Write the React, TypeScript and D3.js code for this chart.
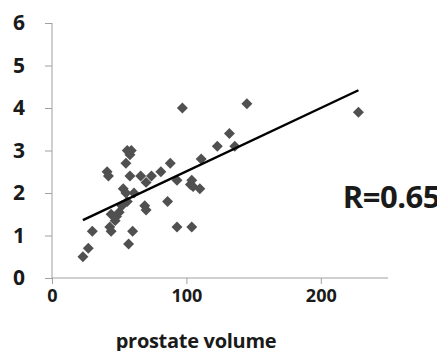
import { useEffect, useRef } from 'react'
import * as d3 from 'd3'

const volume = [23, 27, 30, 41, 42, 43, 44, 44, 47, 48, 50, 52, 53, 55, 56, 57, 60, 55, 56, 58, 59, 58, 61, 66, 70, 74, 69, 70, 81, 86, 88, 93, 93, 97, 103, 104, 105, 104, 110, 111, 123, 132, 136, 145, 228]
const ratio  = [0.5, 0.7, 1.1, 2.5, 2.4, 1.2, 1.1, 1.5, 1.35, 1.45, 1.55, 1.7, 2.1, 2.0, 1.8, 0.8, 1.1, 2.7, 3.0, 2.9, 3.0, 2.4, 2.0, 2.4, 2.25, 2.4, 1.7, 1.6, 2.5, 1.8, 2.7, 2.3, 1.2, 4.0, 2.2, 2.3, 2.15, 1.2, 2.1, 2.8, 3.1, 3.4, 3.1, 4.1, 3.9]

const xTicks = [0, 100, 200]
const yTicks = [0, 1, 2, 3, 4, 5, 6]
// trend line: y = a + b*x, drawn from first to last volume
const trendA = 1.02
const trendB = 0.0149
const trendX = [23, 228]

const W = 437, H = 351

export default function App() {
  const ref = useRef<SVGSVGElement>(null)

  useEffect(() => {
    const svg = d3.select(ref.current!)
    svg.selectAll('*').remove()

    const x = d3.scaleLinear().domain([0, 250]).range([52, 388])
    const y = d3.scaleLinear().domain([0, 6]).range([278, 23])
    const font = '"Open Sans", sans-serif'

    // axes
    const gx = svg.append('g').attr('transform', `translate(0,${y(0)})`)
      .call(d3.axisBottom(x).tickValues(xTicks).tickSize(6).tickPadding(5).tickFormat(d3.format('d')))
    gx.select('.domain').attr('stroke', '#a0a0a0').attr('d', `M${x(0)},0H${x(250)}`)
    gx.selectAll('line').attr('stroke', '#a0a0a0')
    gx.selectAll('text').attr('font-family', font).attr('font-weight', 700)
      .attr('font-size', 18).attr('fill', '#1a1a1a')

    const gy = svg.append('g').attr('transform', `translate(${x(0)},0)`)
      .call(d3.axisLeft(y).tickValues(yTicks).tickSize(7).tickPadding(20).tickFormat(d3.format('d')))
    gy.select('.domain').attr('stroke', '#a0a0a0').attr('d', `M0,${y(6)}V${y(0)}`)
    gy.selectAll('line').attr('stroke', '#a0a0a0')
    gy.selectAll('text').attr('font-family', font).attr('font-weight', 700)
      .attr('font-size', 21).attr('fill', '#1a1a1a')

    // points
    const diamond = d3.symbol().type(d3.symbolSquare).size(60)
    svg.append('g').selectAll('path').data(volume).join('path')
      .attr('d', diamond)
      .attr('transform', (v, i) => `translate(${x(v)},${y(ratio[i])}) rotate(45)`)
      .attr('fill', '#505050')

    // trend
    const line = d3.line<number>().x(v => x(v)).y(v => y(trendA + trendB * v))
    svg.append('path').datum(trendX).attr('d', line).attr('fill', 'none')
      .attr('stroke', '#000').attr('stroke-width', 2.4)

    svg.append('text').attr('x', 440).attr('y', 208).attr('text-anchor', 'end')
      .attr('font-family', font).attr('font-weight', 700).attr('font-size', 31)
      .attr('letter-spacing', -0.5).attr('fill', '#1a1a1a').text('R=0.65')

    svg.append('text').attr('x', 196).attr('y', 348).attr('text-anchor', 'middle')
      .attr('font-family', font).attr('font-weight', 700).attr('font-size', 20)
      .attr('letter-spacing', -0.3).attr('fill', '#1a1a1a').text('prostate volume')
  }, [])

  return (
    <div style={{ position: 'fixed', left: 0, top: 0, width: W, height: H, background: '#fff' }}>
      <svg ref={ref} width={W} height={H} />
    </div>
  )
}
